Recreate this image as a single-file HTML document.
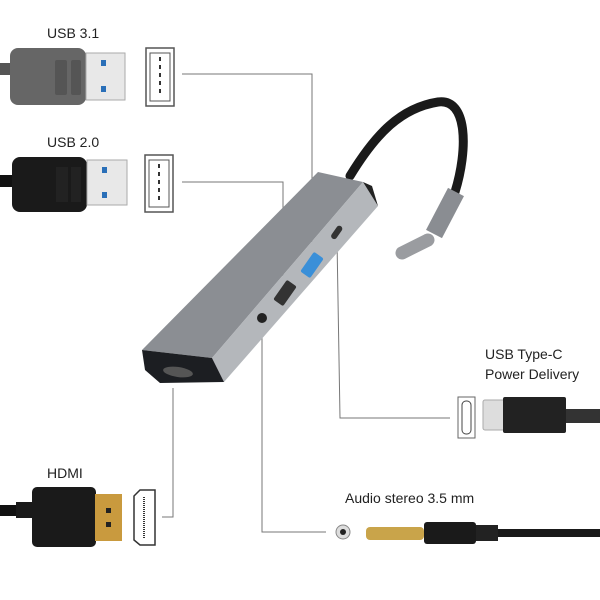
<!DOCTYPE html>
<html><head><style>body{margin:0;background:#fff}svg{display:block}text{font-family:"Liberation Sans",sans-serif;fill:#222}</style></head><body>
<svg width="600" height="600" viewBox="0 0 600 600">
<rect width="600" height="600" fill="#fff"/>
<g fill="none" stroke="#777" stroke-width="1">
<polyline points="182,74 312,74 312,248"/>
<polyline points="182,182 283,182 283,288"/>
<polyline points="337,240 340,418 450,418"/>
<polyline points="262,325 262,532 326,532"/>
<polyline points="173,388 173,517 162,517"/>
</g>
<text x="47" y="38" font-size="14">USB 3.1</text>
<rect x="0" y="63" width="15" height="12" fill="#555"/>
<rect x="10" y="48" width="76" height="57" rx="8" fill="#666"/>
<rect x="55" y="60" width="12" height="35" rx="2" fill="#555"/>
<rect x="71" y="60" width="10" height="35" rx="2" fill="#555"/>
<rect x="86" y="53" width="39" height="47" fill="#e8e8e8" stroke="#aaa"/>
<rect x="101" y="60" width="5" height="6" fill="#2a6fb8"/><rect x="101" y="86" width="5" height="6" fill="#2a6fb8"/>
<rect x="146" y="48" width="28" height="58" fill="#fff" stroke="#555" stroke-width="1.5"/><rect x="150" y="53" width="20" height="48" fill="none" stroke="#555"/><line x1="160" y1="57" x2="160" y2="97" stroke="#333" stroke-width="2" stroke-dasharray="4,4"/>
<text x="47" y="147" font-size="14">USB 2.0</text>
<rect x="0" y="175" width="15" height="12" fill="#111"/>
<rect x="12" y="157" width="75" height="55" rx="8" fill="#1a1a1a"/>
<rect x="56" y="167" width="12" height="35" fill="#222"/><rect x="71" y="167" width="10" height="35" fill="#222"/>
<rect x="87" y="160" width="40" height="45" fill="#e8e8e8" stroke="#aaa"/>
<rect x="102" y="167" width="5" height="6" fill="#2a6fb8"/><rect x="102" y="192" width="5" height="6" fill="#2a6fb8"/>
<rect x="145" y="155" width="28" height="57" fill="#fff" stroke="#555" stroke-width="1.5"/><rect x="149" y="160" width="20" height="47" fill="none" stroke="#555"/><line x1="159" y1="164" x2="159" y2="204" stroke="#333" stroke-width="2" stroke-dasharray="4,4"/>
<path d="M350,176 C375,135 400,108 438,102 C468,98 468,150 455,192" fill="none" stroke="#1a1a1a" stroke-width="9" stroke-linecap="round"/>
<line x1="456" y1="192" x2="434" y2="234" stroke="#8a8d92" stroke-width="18"/>
<line x1="428" y1="240" x2="402" y2="253" stroke="#9a9ca0" stroke-width="13" stroke-linecap="round"/>
<polygon points="318,172 363,182 212,358 142,350" fill="#8b8e93"/>
<polygon points="363,182 378,206 224,382 212,358" fill="#b4b7bb"/>
<polygon points="363,182 372,186 378,206" fill="#222"/>
<polygon points="142,350 212,358 224,382 160,383 145,370" fill="#1c1e22"/>
<ellipse cx="178" cy="372" rx="15" ry="5" fill="#555" transform="rotate(8 178 372)"/>
<rect x="334" y="225" width="6" height="15" rx="3" fill="#333" transform="rotate(35 337 232)"/>
<rect x="306" y="253" width="12" height="24" rx="2" fill="#3a8fd8" transform="rotate(35 312 265)"/>
<rect x="279" y="281" width="12" height="24" rx="2" fill="#333" transform="rotate(35 285 293)"/>
<circle cx="262" cy="318" r="5" fill="#222"/>
<text x="485" y="359" font-size="14">USB Type-C</text>
<text x="485" y="379" font-size="14">Power Delivery</text>
<rect x="458" y="397" width="17" height="41" fill="#fff" stroke="#666"/><rect x="462" y="401" width="9" height="33" rx="4" fill="none" stroke="#444"/>
<rect x="483" y="400" width="22" height="30" rx="2" fill="#ddd" stroke="#aaa"/>
<rect x="503" y="397" width="63" height="36" rx="2" fill="#222"/>
<rect x="566" y="409" width="34" height="14" fill="#333"/>
<text x="345" y="503" font-size="14">Audio stereo 3.5 mm</text>
<circle cx="343" cy="532" r="7" fill="#ddd" stroke="#888"/><circle cx="343" cy="532" r="3" fill="#222"/>
<rect x="366" y="527" width="58" height="13" rx="4" fill="#c9a44a"/>
<rect x="424" y="522" width="52" height="22" rx="3" fill="#1a1a1a"/>
<rect x="476" y="525" width="22" height="16" fill="#222"/>
<rect x="498" y="529" width="102" height="8" fill="#1a1a1a"/>
<text x="47" y="478" font-size="14">HDMI</text>
<rect x="0" y="505" width="20" height="11" fill="#111"/>
<rect x="16" y="502" width="18" height="16" fill="#1a1a1a"/>
<rect x="32" y="487" width="64" height="60" rx="5" fill="#1a1a1a"/>
<rect x="95" y="494" width="27" height="47" fill="#c99a3e"/>
<rect x="106" y="508" width="5" height="5" fill="#222"/><rect x="106" y="522" width="5" height="5" fill="#222"/>
<polygon points="134,496 140,490 155,490 155,545 140,545 134,540" fill="#fff" stroke="#333" stroke-width="1.5"/>
<line x1="144" y1="497" x2="144" y2="538" stroke="#333" stroke-width="2" stroke-dasharray="1,1"/>
</svg>
</body></html>
